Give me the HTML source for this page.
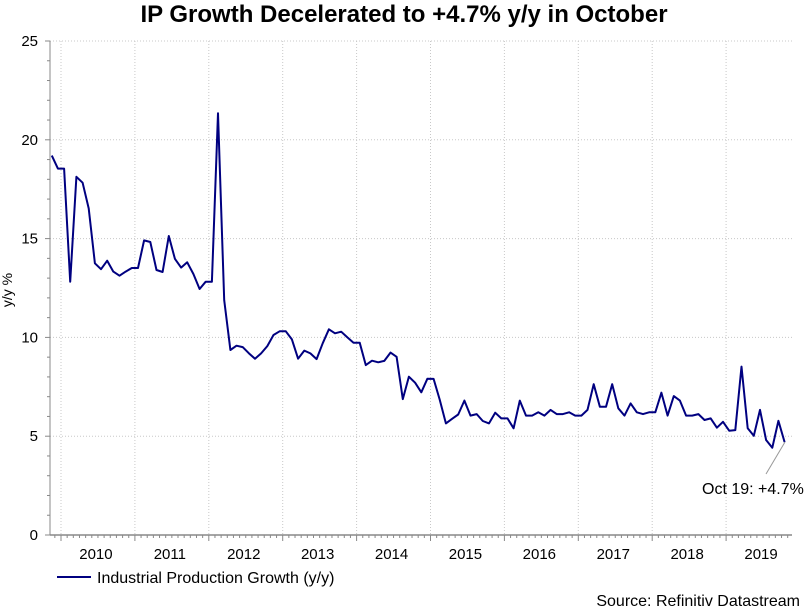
<!DOCTYPE html>
<html><head><meta charset="utf-8"><style>
body{margin:0;background:#fff;}
svg{display:block;font-family:"Liberation Sans",Arial,sans-serif;}
</style></head><body>
<svg id="chart" width="811" height="609" viewBox="0 0 811 609" xmlns="http://www.w3.org/2000/svg">
<text x="404" y="22" text-anchor="middle" font-size="24" font-weight="bold" fill="#000">IP Growth Decelerated to +4.7% y/y in October</text>
<text transform="translate(12,290) rotate(-90)" text-anchor="middle" font-size="14" fill="#000">y/y %</text>
<g id="grid"></g><g id="axes"></g><g id="series"></g>
<line x1="785" y1="442" x2="766" y2="474" stroke="#999" stroke-width="1"/>
<text x="702" y="494" font-size="16" fill="#000">Oct 19: +4.7%</text>
<g>
<line x1="57" y1="577" x2="91" y2="577" stroke="#000080" stroke-width="2"/>
<text x="97" y="583" font-size="16" fill="#000">Industrial Production Growth (y/y)</text>
</g>
<text x="800" y="606" text-anchor="end" font-size="16" fill="#000">Source: Refinitiv Datastream</text>
</svg>
<script>
const years = ["2010","2011","2012","2013","2014","2015","2016","2017","2018","2019"];
const yTicks = [0,5,10,15,20,25];
const startMonthOffset = -2; // first observation Nov 2009
const ipGrowth = [
19.2,18.54,
18.54,12.82,18.13,17.83,16.53,13.75,13.45,13.88,13.33,13.12,13.33,13.51,
13.51,14.91,14.83,13.41,13.31,15.13,13.98,13.53,13.8,13.21,12.45,12.82,
12.82,21.34,11.89,9.36,9.58,9.51,9.2,8.92,9.19,9.56,10.12,10.31,
10.31,9.9,8.92,9.33,9.19,8.9,9.7,10.41,10.21,10.29,10.0,9.73,
9.73,8.6,8.82,8.74,8.81,9.23,9.02,6.88,8.01,7.71,7.22,7.91,
7.9,6.85,5.65,5.88,6.1,6.8,6.04,6.12,5.77,5.65,6.19,5.9,
5.9,5.4,6.8,6.04,6.04,6.21,6.04,6.33,6.12,6.12,6.21,6.04,
6.04,6.33,7.63,6.49,6.49,7.63,6.41,6.04,6.66,6.21,6.12,6.21,
6.21,7.2,6.04,7.03,6.8,6.04,6.04,6.12,5.82,5.9,5.43,5.73,
5.28,5.31,8.52,5.4,5.02,6.33,4.81,4.42,5.78,4.7
];
const NS="http://www.w3.org/2000/svg";
const L=50,R=792,T=41,B=535,X0=61,YW=73.9;
const xM=m=>X0+(m+0.5)*YW/12;
const xY=i=>X0+i*YW;
const yV=v=>B-(v/25)*(B-T);
function mk(tag,attrs,parent){const e=document.createElementNS(NS,tag);for(const k in attrs)e.setAttribute(k,attrs[k]);parent.appendChild(e);return e;}
const grid=document.getElementById('grid'),axes=document.getElementById('axes'),series=document.getElementById('series');
yTicks.forEach(v=>{
  if(v>0){const g=mk('line',{x1:L,x2:R,y1:yV(v),y2:yV(v),stroke:'#c8c8c8','stroke-dasharray':'1,2'},grid);
  
  }
  const t=mk('text',{x:38,y:yV(v)+5,'text-anchor':'end','font-size':15,fill:'#000'},axes);
  t.textContent=v;
  
  
  mk('line',{x1:L-5,x2:L,y1:yV(v),y2:yV(v),stroke:'#888'},axes);
});
for(let v=1;v<25;v++){if(v%5)mk('line',{x1:L-3,x2:L,y1:yV(v),y2:yV(v),stroke:'#888'},axes);}
years.forEach((y,i)=>{
  const x=xY(i);
  const g=mk('line',{x1:x,x2:x,y1:T,y2:B,stroke:'#c8c8c8','stroke-dasharray':'1,2'},grid);
  
  
  mk('line',{x1:x,x2:x,y1:B,y2:B+6,stroke:'#888'},axes);
  for(let m=1;m<12;m++){const xm=x+m*YW/12;if(xm<R)mk('line',{x1:xm,x2:xm,y1:B,y2:B+3,stroke:'#888'},axes);}
  const t=mk('text',{x:x+YW/2-2,y:B+24,'text-anchor':'middle','font-size':15,fill:'#000'},axes);
  t.textContent=y;
  
  
});
for(let m=1;m<2;m++)mk('line',{x1:X0-m*YW/12,x2:X0-m*YW/12,y1:B,y2:B+3,stroke:'#888'},axes);
mk('line',{x1:L,x2:L,y1:T,y2:B,stroke:'#888'},axes);
mk('line',{x1:L,x2:R,y1:B,y2:B,stroke:'#888','stroke-width':1.5},axes);
const pts=ipGrowth.map((v,i)=>xM(i+startMonthOffset).toFixed(1)+','+yV(v).toFixed(1)).join(' ');
const line=mk('polyline',{points:pts,fill:'none',stroke:'#000080','stroke-width':2,'stroke-linejoin':'round'},series);


</script>
</body></html>
